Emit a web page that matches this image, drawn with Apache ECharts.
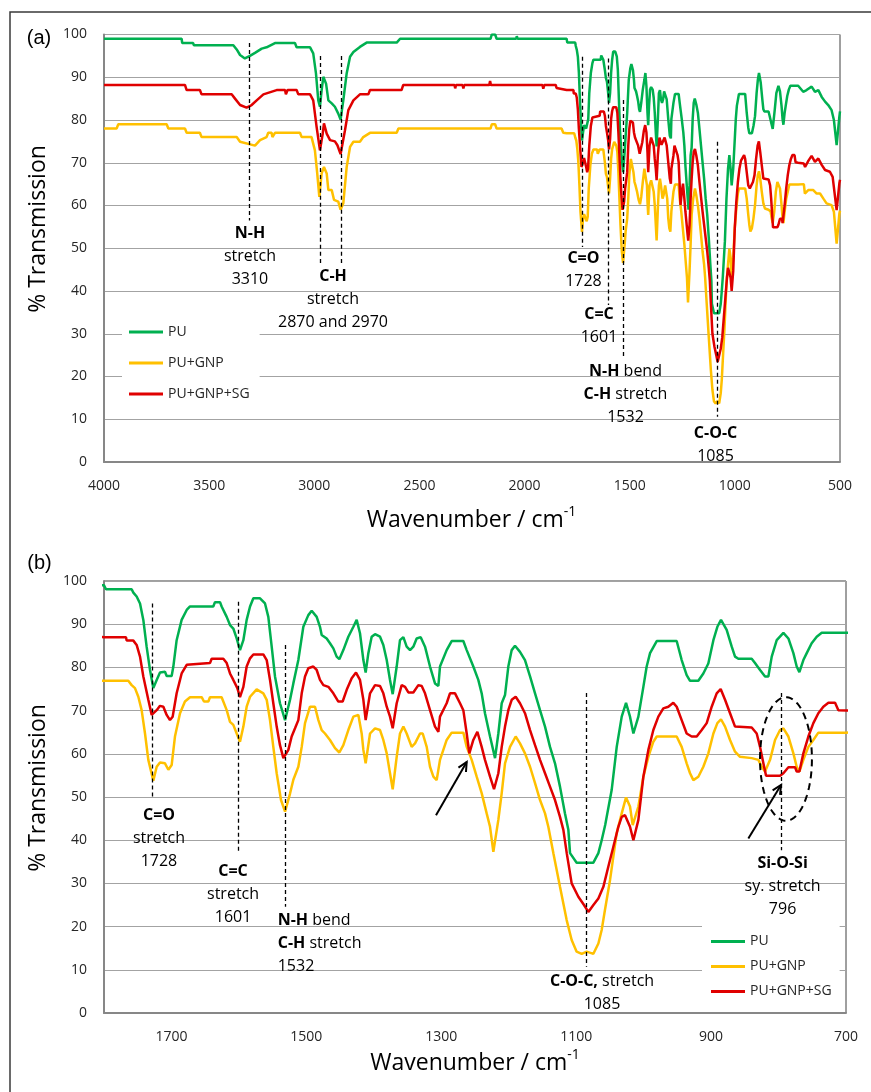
<!DOCTYPE html>
<html><head><meta charset="utf-8">
<script src="https://cdn.jsdelivr.net/npm/echarts@6/dist/echarts.min.js"></script>
<style>html,body{margin:0;padding:0;background:#fff}#c{width:871px;height:1092px}</style>
</head><body><div id="c"></div>
<script>
// ---------- DATA ----------
const SERIES_NAMES = ['PU', 'PU+GNP', 'PU+GNP+SG'];
const X_TICKS_B = [1700, 1500, 1300, 1100, 900, 700];

// [wavenumber cm-1, % transmission]
const PU = [[4000,99],[3631,99],[3628,98],[3576,98],[3573,97.5],[3385,97.5],[3369,96.5],[3353,95.2],[3330,94.4],[3306,95],[3282,95.7],[3250,96.7],[3227,97],[3187,98],[3092,98],[3084,97],[3020,97],[3005,95.6],[2992,90.9],[2981,84.6],[2973,83.1],[2965,87],[2957,90.1],[2944,88.5],[2933,84.6],[2917,83.9],[2902,83.1],[2886,81.5],[2875,80.1],[2862,84.6],[2846,90.9],[2830,94.8],[2814,95.9],[2783,97.1],[2751,98.1],[2608,98.1],[2592,99],[2162,99],[2156,100],[2140,100],[2133,99],[2040,99],[2037,99.6],[2033,99],[1816,99],[1800,99],[1797,98.1],[1759,98.1],[1756.5,97.3],[1751.6,96.4],[1746.6,94.8],[1741.7,91],[1736.8,84.8],[1731.8,79.4],[1726.9,75.2],[1721.9,77.1],[1717,78.8],[1709.6,79],[1707.1,78],[1699.7,78],[1697.2,80.2],[1692.3,86.3],[1684.9,91],[1677.4,93.3],[1672.5,94.1],[1638,94.1],[1635.5,95.1],[1628,95.1],[1625.6,94.1],[1618.1,91.7],[1613.2,89.8],[1608.3,89],[1603.3,86.7],[1598.4,84],[1593.4,86.3],[1588.5,91],[1583.5,94.1],[1578.6,96],[1568.7,96],[1561.3,94.8],[1556.4,91.7],[1551.4,84.8],[1546.5,77.9],[1539.1,71.7],[1531.6,67.8],[1524.2,72.5],[1519.3,76.3],[1511.9,81.7],[1504.5,89.4],[1497.1,92.1],[1492.1,93.1],[1484.7,91.7],[1479.8,89.4],[1477.3,87.5],[1469.9,86.7],[1465,85.6],[1460,84.4],[1455.1,82.5],[1451.1,81.9],[1445.2,84],[1437.8,87.1],[1430.3,89.4],[1425.4,91],[1420.5,87.9],[1415.5,81.7],[1412.1,78.8],[1408.1,83.3],[1403.2,87.1],[1398.2,87.7],[1390.8,87.1],[1385.9,85.2],[1380.9,81.7],[1376,77.1],[1372,73.8],[1366.1,80.2],[1361.2,86.3],[1356.2,87],[1351.3,84.8],[1346.3,84],[1341.4,84.8],[1336.5,86.7],[1330.5,87],[1324.1,84.8],[1316.7,80.2],[1309.3,76.3],[1304.3,75.7],[1301.9,80.2],[1292,84],[1284.6,86.1],[1267.3,86.1],[1262.3,84],[1252.5,80.2],[1245.1,77.1],[1240.1,74],[1235.2,69.4],[1227.7,64],[1220.3,59],[1215.4,64.7],[1210.4,71.7],[1205.5,73.6],[1200.6,80.2],[1195.6,84],[1190.7,85],[1183.3,83.6],[1175.9,81.7],[1168.4,77.9],[1161,74],[1153.6,70.1],[1146.2,66.3],[1138.8,61.6],[1131.4,57.8],[1124,52.4],[1116.6,46.2],[1111.6,42.4],[1109.1,37],[1099.3,34.8],[1074.5,34.8],[1067.1,37],[1062.2,40],[1057,43.5],[1047.4,51.6],[1039.9,61.6],[1032.5,68.6],[1026.1,71.8],[1020.2,68.6],[1015.2,64.7],[1007.8,68.6],[1000.4,75.5],[995.5,80.2],[990.5,83.3],[980.6,86.1],[951,86.1],[943.6,81.7],[936.2,78.2],[931.2,76.9],[918.9,76.9],[911.5,78.6],[904.1,80.9],[896.6,86.3],[890.7,89.4],[885.3,91],[876.9,88.7],[869.4,84.8],[864.5,82.5],[859.6,82],[839.8,82],[834.9,81],[827.4,79.4],[820,77.9],[815.1,77.9],[810.1,82.5],[802.7,86.3],[792.8,88],[785.4,86.7],[778,83.3],[773.1,80.2],[769.1,78.9],[763.2,81.7],[758.2,83.3],[750.9,85.6],[743.4,87.1],[736,88],[699,88],[690,88],[675,86.6],[659,87],[635,87.8],[619,86.6],[603,87],[587,85.4],[571,84.3],[556,83.5],[540,82.3],[529,80],[516,74.1],[503,80.8],[500,82]];

const PU_GNP = [[4000,78],[3940,78],[3932,79],[3702,79],[3694,78],[3615,78],[3607,77],[3544,77],[3536,76],[3369,76],[3353,74.9],[3282,74],[3258,75.3],[3227,76],[3219,77],[3203,77],[3199,76],[3191,76],[3187,77],[3068,77],[3060,76],[3013,76],[2997,72.9],[2986,67.5],[2976,62],[2965,67.5],[2954,69],[2941,67.5],[2933,63.6],[2917,63.6],[2906,61.3],[2886,60.9],[2875,59],[2862,60.5],[2846,69],[2830,73.7],[2814,74.9],[2783,74.9],[2767,76],[2735,77],[2608,77],[2600,78],[2162,78],[2156,79],[2140,79],[2133,78],[1824,78],[1816,77],[1800,76.9],[1764,76.9],[1759,75.9],[1754.1,75.2],[1749.1,73.2],[1744.2,70.1],[1739.2,64.7],[1734.3,58.6],[1726.9,53.8],[1721.9,57],[1717,58],[1709.6,57.8],[1704.6,56.3],[1699.7,57.4],[1694.8,64],[1687.3,69.4],[1680,72.1],[1672.5,73.1],[1655.2,73.1],[1651.8,72.1],[1645.3,72.1],[1642.9,73.1],[1625.6,73.1],[1618.1,70.1],[1613.2,67.4],[1608.3,66.7],[1603.3,64.7],[1598.4,62.8],[1593.4,66.3],[1588.5,70.9],[1583.5,73.2],[1573.7,74.9],[1563.8,74],[1558.8,72.5],[1553.9,67.8],[1549,61.6],[1544,55.5],[1537.6,49.3],[1531.6,46.6],[1524.2,50.8],[1519.3,54],[1511.9,57],[1506.9,61.6],[1502,67.1],[1494.6,70.9],[1487.2,70.9],[1482.2,67.8],[1477.3,65.5],[1472.4,64.7],[1465,63.2],[1457.5,61.3],[1451.1,60.3],[1445.2,62],[1437.8,65.5],[1430.3,68.6],[1422.9,69],[1418,64.7],[1415.5,60.9],[1412.1,57.8],[1405.6,64.7],[1398.2,65.9],[1390.8,65.5],[1385.9,63.2],[1380.9,60.1],[1376,55.5],[1372,51.8],[1366.1,59.3],[1361.2,64.7],[1356.2,66.3],[1351.3,64.7],[1343.9,61.6],[1338.9,62.4],[1331.5,64.7],[1327.5,64.7],[1321.6,61.6],[1316.7,57],[1311.7,54.7],[1306.8,53.9],[1301.9,58.6],[1292,63.2],[1284.6,64.9],[1267.3,64.9],[1262.3,61.6],[1254.9,58.6],[1247.5,54.7],[1240.1,50.9],[1232.7,46.2],[1227.7,43.1],[1222.8,37.3],[1215.4,44.7],[1210.4,50.9],[1205.5,57.8],[1198.1,61.6],[1189.7,64],[1183.3,62.4],[1175.9,60.1],[1168.4,57],[1161,53.2],[1153.6,49.3],[1146.2,46.2],[1141.3,43.1],[1133.8,37],[1124,29.2],[1114.1,21.5],[1106.7,16.9],[1099.3,14.2],[1091.8,13.7],[1084.4,14.2],[1074.5,13.7],[1067.1,16.1],[1062.2,19.2],[1057.3,23.9],[1049.8,30.8],[1044.9,36.2],[1040,41.6],[1032.5,46.2],[1026.1,49.9],[1020.2,47.8],[1016.2,43.5],[1007.8,47.8],[1000.4,54.7],[993,59.3],[985.6,62.8],[980.6,64],[951,64],[943.6,61.6],[936.2,57.8],[931.2,55.5],[926.3,53.9],[918.9,54.7],[911.5,57],[904.1,60.1],[896.6,64.7],[890.7,67.1],[885.3,68],[879.3,66.3],[871.9,63.2],[864.5,60.5],[857.1,59.3],[839.8,59],[829.9,58.6],[825,57],[820,55.9],[812.6,58.6],[805.2,63.2],[797.8,65.5],[792.8,65.9],[785.4,64],[778,60.1],[773.1,57],[769.1,55.9],[763.2,58.6],[755.8,61.6],[748.4,63.2],[741,64.9],[699,64.9],[690,65],[672,65],[667,62.8],[651,63.6],[627,63.6],[611,62.8],[595,62.8],[579,61.6],[564,60.5],[540,60.1],[529,58.5],[516,51.1],[503,58.1],[500,58.8]];

const PU_GNP_SG = [[4000,88.2],[3615,88.2],[3607,87],[3544,87],[3536,86],[3393,86],[3377,85],[3353,83.5],[3322,82.9],[3298,83.5],[3274,84.6],[3242,86],[3179,87],[3139,87],[3135,86],[3131,86],[3127,87],[3084,87],[3076,86],[3020,86],[3005,84.6],[2989,78.4],[2973,72.9],[2960,76.8],[2954,79.2],[2941,76.8],[2925,75.3],[2902,75],[2890,74.1],[2875,72],[2854,77.6],[2838,82.3],[2814,84.6],[2783,86],[2743,86],[2735,87],[2585,87],[2577,88.2],[2333,88.2],[2330,87.4],[2326,88.2],[2295,88.2],[2291,87.4],[2287,88.2],[2168,88.2],[2164,89.1],[2160,88.2],[1915,88.2],[1911,87.3],[1906,88.2],[1852,88.2],[1848,87.5],[1800,87],[1767.4,87],[1766.4,86.2],[1756.5,86.2],[1751.6,85.2],[1746.6,82.5],[1741.7,77.9],[1734.3,72.5],[1729.3,69],[1721.9,70.1],[1717,71.1],[1712,70.9],[1707.1,69],[1702.2,67.8],[1698.2,68.6],[1692.3,74],[1684.9,78.6],[1677.4,80.6],[1675,81],[1642.9,81],[1640.4,82],[1623.1,82],[1618.1,81],[1613.2,78.6],[1608.3,77.1],[1602.3,75.2],[1598.4,73.1],[1593.4,75.5],[1588.5,80.2],[1583.5,82.1],[1578.6,83],[1563.8,83],[1558.8,81.7],[1553.9,77.1],[1549,71.7],[1544,66.3],[1539.1,62],[1534.1,59],[1526.7,60.9],[1521.8,64],[1516.8,65.9],[1511.9,67.8],[1506.9,74],[1502,77.9],[1497.1,79.8],[1489.7,80.2],[1484.7,79.4],[1479.8,77.1],[1474.8,75.9],[1467.4,75.5],[1460,74],[1452.6,72.1],[1446.2,72.1],[1440.2,74.8],[1432.8,77.5],[1426.4,78.8],[1420.5,77.1],[1415.5,72.5],[1412.1,67.8],[1405.6,74],[1398.2,75.9],[1390.8,75.7],[1385.9,74],[1380.9,70.9],[1376,68.6],[1372,65.9],[1366.1,71.7],[1358.7,75.9],[1353.7,75.5],[1348.8,74.2],[1341.4,74.2],[1334,75.9],[1329,75.7],[1324.1,74],[1316.7,70.1],[1309.3,66.3],[1304.3,65.1],[1301.9,68.6],[1292,71.7],[1287.1,74],[1279.6,74],[1272.2,71.7],[1267.3,70.1],[1262.3,64.7],[1258.4,60.1],[1252.5,63.2],[1246.5,65.1],[1240.1,61.6],[1235.2,58.6],[1227.7,54.7],[1221.8,51.8],[1215.4,55.5],[1210.4,61.6],[1205.5,66.3],[1200.6,70.1],[1195.6,72.5],[1189.7,73.2],[1183.3,71.7],[1175.9,69.4],[1168.4,65.5],[1161,62],[1153.6,58.6],[1146.2,55.5],[1138.8,52.4],[1131.4,49.3],[1124,45.4],[1119,42.4],[1114,37],[1106.7,30],[1096.8,26.9],[1088.4,25],[1082,23.4],[1074.5,25],[1067.1,26.5],[1059.7,29.2],[1052.3,33.9],[1044.9,38.5],[1037.5,43.1],[1032.5,45.4],[1027.6,45.8],[1020.2,43.1],[1015.2,40],[1007.8,44.7],[1000.4,54.7],[993,60.9],[985.6,65.5],[978.2,68.6],[970.8,70.5],[963.4,70.9],[956,71.8],[951,70.9],[943.6,67.8],[936.2,64.7],[928.8,64],[921.3,64],[913.9,65.5],[906.5,67.1],[899.1,70.9],[891.7,74],[885.8,75],[879.3,72.5],[871.9,69.4],[864.5,66.3],[839.8,66.1],[832.4,64.7],[827.4,61.6],[822.5,57.8],[818.5,54.9],[797.8,54.9],[792.8,55.5],[785.4,56.9],[775.5,56.9],[773.1,55.9],[769.1,55.9],[763.2,60.1],[755.8,64],[748.4,67.1],[741,69.4],[733.6,70.9],[726.1,71.8],[716.2,71.8],[711.3,70.1],[699,70],[690,70.2],[672,69.8],[666,69],[650,70.5],[635,71.6],[619,70.2],[603,71],[587,69.5],[571,68.3],[548,67.9],[535,66.7],[516,58.9],[503,65.2],[500,66]];

// peak marker lines: wavenumber, top %, bottom %
const PEAKS_A = [[3310,98,56.5],[2970,95,46.5],[2870,95,46.5],[1728,94.8,50.3],[1601,94.4,36.7],[1532,84.7,24.5],[1085,74.9,10.6]];
const PEAKS_B = [[1728,94.8,49.9],[1601,95.2,37],[1532,85.2,24.6],[1085,74.1,10.7],[796,74.1,37.7]];

// annotation texts anchored at [wavenumber, %]
const NOTES_A = [
  [3306, 48.1, '{b|N-H}\nstretch\n3310', 'center'],
  [2911, 38.0, '{b|C-H}\nstretch\n2870 and 2970', 'center'],
  [1720, 44.9, '{b|C=O}\n1728', 'center'],
  [1646, 31.9, '{b|C=C}\n1601', 'center'],
  [1520, 15.7, '{b|N-H} bend\n{b|C-H} stretch\n1532', 'center'],
  [1092, 3.9, '{b|C-O-C}\n1085', 'center']
];
const NOTES_B = [
  [1718.5, 40.4, '{b|C=O}\nstretch\n1728', 'center'],
  [1608.7, 27.4, '{b|C=C}\nstretch\n1601', 'center'],
  [1542.5, 16.1, '{b|N-H} bend\n{b|C-H} stretch\n1532', 'left'],
  [1061.7, 4.7, '{b|C-O-C,} stretch\n1085', 'center'],
  [794, 29.3, '{b|Si-O-Si}\nsy. stretch\n796', 'center']
];
const ARROWS_B = [[[1307.8, 45.8], [1262.3, 58.1]], [[844.8, 40.4], [796.3, 52.8]]];
const ELLIPSE_B = [789, 58.8, 38.5, 14.3]; // centre w, centre %, radius w, radius %

// ---------- CHART ----------
const FONT = '"Open Sans", "Noto Sans", sans-serif';
const COLORS = ['#00B050', '#FFC000', '#E00000'];
const chart = echarts.init(document.getElementById('c'), null, {renderer: 'canvas'});
const plainNum = v => String(v);

function xAxisCfg(gi, extra) {
  return Object.assign({
    type: 'value', gridIndex: gi, inverse: true,
    axisLine: {show: true, onZero: false, lineStyle: {color: '#878787', width: 2}},
    axisTick: {show: false}, splitLine: {show: false},
    axisLabel: {margin: 17, fontSize: 14, color: '#262626', fontFamily: FONT, formatter: plainNum}
  }, extra);
}
function yAxisCfg(gi) {
  return {
    type: 'value', gridIndex: gi, min: 0, max: 100, interval: 10,
    axisLine: {show: true, lineStyle: {color: '#878787', width: 2}},
    axisTick: {show: false},
    splitLine: {show: true, lineStyle: {color: '#a3a3a3', width: 1}},
    axisLabel: {margin: 17, fontSize: 14, color: '#262626', fontFamily: FONT}
  };
}
function legendCfg(left, top, pad, gap) {
  return {
    data: SERIES_NAMES, orient: 'vertical', left, top, padding: pad, itemGap: gap,
    itemWidth: 34, itemHeight: 3, icon: 'rect', backgroundColor: '#fff', selectedMode: false,
    textStyle: {fontSize: 14, lineHeight: 17, color: '#262626', fontFamily: FONT}
  };
}
function seriesCfg(name, data, color, gi, peaks) {
  const s = {
    type: 'line', name, data, xAxisIndex: gi, yAxisIndex: gi,
    showSymbol: false, symbol: 'none', clip: true, silent: true,
    lineStyle: {color, width: 2.5}, itemStyle: {color}, emphasis: {disabled: true}
  };
  if (peaks) {
    s.markLine = {
      silent: true, symbol: ['none', 'none'], label: {show: false},
      lineStyle: {type: [4, 3], color: '#000', width: 1.3}, emphasis: {disabled: true},
      data: peaks.map(p => [{coord: [p[0], p[1]]}, {coord: [p[0], p[2]]}])
    };
  }
  return s;
}
const DATA = [PU, PU_GNP, PU_GNP_SG];
const series = [];
[0, 1].forEach(gi => {
  DATA.forEach((d, i) => series.push(seriesCfg(SERIES_NAMES[i], d, COLORS[i], gi,
    i === 2 ? (gi === 0 ? PEAKS_A : PEAKS_B) : null)));
});

chart.setOption({
  animation: false,
  backgroundColor: '#fff',
  textStyle: {fontFamily: FONT},
  grid: [
    {left: 104, top: 34.5, width: 736, height: 427.5, show: true, borderColor: '#404040', borderWidth: 1},
    {left: 104, top: 581, width: 742, height: 432, show: true, borderColor: '#404040', borderWidth: 1}
  ],
  xAxis: [
    xAxisCfg(0, {min: 500, max: 4000, interval: 500}),
    xAxisCfg(1, {min: 700, max: 1800, axisLabel: {margin: 17, fontSize: 14, color: '#262626', fontFamily: FONT, formatter: plainNum, customValues: X_TICKS_B}})
  ],
  yAxis: [yAxisCfg(0), yAxisCfg(1)],
  legend: [legendCfg(122, 313.5, [10, 10, 10, 7], 14), legendCfg(702, 923, [10, 8, 10, 9], 8)],
  series
});

// ---------- ANNOTATIONS ----------
const P = (g, w, v) => chart.convertToPixel({gridIndex: g}, [w, v]);
const G = [];
G.push({type: 'rect', silent: true, shape: {x: 10, y: 12, width: 900, height: 1100},
  style: {fill: null, stroke: '#3a3a3a', lineWidth: 1.5}});
function txt(x, y, text, st) {
  return {type: 'text', x, y, silent: true, z: 100, style: Object.assign({
    text, fill: '#000', fontSize: 16, fontFamily: FONT, fontWeight: 'normal',
    align: 'center', verticalAlign: 'middle', textAlign: 'center', textVerticalAlign: 'middle',
    lineHeight: 23,
    rich: {b: {fontSize: 16, fontFamily: FONT, fontWeight: 'bold', lineHeight: 23, fill: '#000'}}
  }, st || {})};
}
G.push(txt(39, 38, '(a)', {fontSize: 20, fontFamily: '"Liberation Sans", Arial, sans-serif', lineHeight: 24}));
G.push(txt(39.5, 563, '(b)', {fontSize: 20, fontFamily: '"Liberation Sans", Arial, sans-serif', lineHeight: 24}));
[[229, 520, 471.5], [788, 1063, 475]].forEach(([yc, xy, xc]) => {
  const t = txt(38, yc, '% Transmission', {fontSize: 23, lineHeight: 28, fill: '#000'});
  t.rotation = Math.PI / 2;
  G.push(t);
  G.push(txt(xc, xy, '{m|Wavenumber / cm}{s|-1}', {fontSize: 23, lineHeight: 30,
    rich: {m: {fontSize: 23, fontFamily: FONT, lineHeight: 30, fill: '#000'},
           s: {fontSize: 14, fontFamily: FONT, lineHeight: 16, verticalAlign: 'top', fill: '#000'}}}));
});
[[0, NOTES_A], [1, NOTES_B]].forEach(([g, notes]) => {
  notes.forEach(n => {
    const p = P(g, n[0], n[1]);
    G.push(txt(p[0], p[1], n[2], {align: n[3], textAlign: n[3]}));
  });
});
ARROWS_B.forEach(([a, b]) => {
  const p0 = P(1, a[0], a[1]), p1 = P(1, b[0], b[1]);
  const ang = Math.atan2(p1[1] - p0[1], p1[0] - p0[0]);
  const L = 10, da = Math.PI / 7;
  const h1 = [p1[0] - L * Math.cos(ang - da), p1[1] - L * Math.sin(ang - da)];
  const h2 = [p1[0] - L * Math.cos(ang + da), p1[1] - L * Math.sin(ang + da)];
  G.push({type: 'line', silent: true, z: 100, shape: {x1: p0[0], y1: p0[1], x2: p1[0], y2: p1[1]},
    style: {stroke: '#000', lineWidth: 2}});
  G.push({type: 'polyline', silent: true, z: 100, shape: {points: [h1, p1, h2]},
    style: {stroke: '#000', lineWidth: 2, fill: null}});
});
(function () {
  const [cw, cv, rw, rv] = ELLIPSE_B;
  const pts = [];
  for (let i = 0; i < 90; i++) {
    const t = i / 90 * 2 * Math.PI;
    pts.push(P(1, cw + rw * Math.cos(t), cv + rv * Math.sin(t)));
  }
  G.push({type: 'polygon', silent: true, z: 100, shape: {points: pts},
    style: {fill: null, stroke: '#000', lineWidth: 2, lineDash: [7, 5]}});
})();
chart.setOption({graphic: G});
</script>
</body></html>
